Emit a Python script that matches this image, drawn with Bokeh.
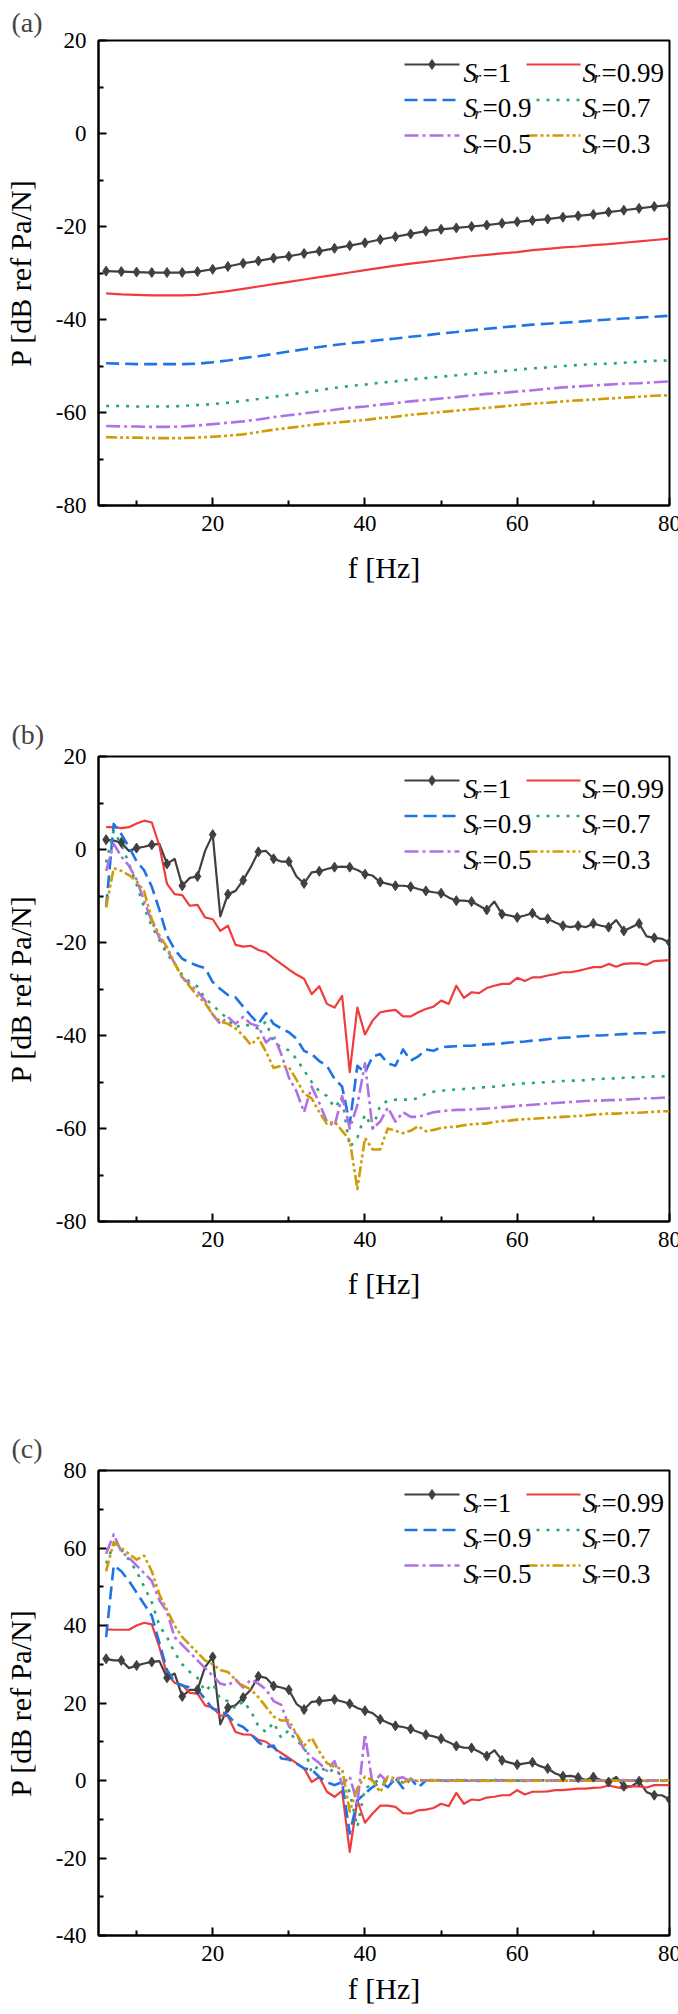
from bokeh.embed import file_html
from bokeh.layouts import column
from bokeh.models import FixedTicker, Label, Range1d
from bokeh.plotting import figure
from bokeh.resources import INLINE

FONT = "Liberation Serif"
FRAME_W = 571
FRAME_H = 465

# ---- data ----
sr_labels = ["1", "0.99", "0.9", "0.7", "0.5", "0.3"]

freq_a = list(range(6, 81, 2))
a_sr1 = [-29.6, -29.7, -29.8, -29.9, -29.9, -29.9, -29.7, -29.2, -28.6, -27.9,
         -27.4, -26.8, -26.4, -25.8, -25.3, -24.7, -24.1, -23.5, -22.8, -22.2,
         -21.6, -21.0, -20.6, -20.3, -20.0, -19.7, -19.3, -19.0, -18.7, -18.4,
         -18.0, -17.7, -17.4, -16.9, -16.5, -16.1, -15.7, -15.4]
a_sr099 = [-34.4, -34.6, -34.7, -34.8, -34.8, -34.8, -34.7, -34.3, -33.9, -33.4,
           -32.9, -32.4, -31.9, -31.4, -30.9, -30.4, -29.9, -29.4, -28.9, -28.4,
           -28.0, -27.6, -27.2, -26.8, -26.4, -26.1, -25.8, -25.5, -25.1, -24.8,
           -24.5, -24.3, -24.0, -23.8, -23.5, -23.2, -22.9, -22.6]
a_sr09 = [-49.4, -49.5, -49.6, -49.6, -49.6, -49.6, -49.5, -49.2, -48.8, -48.3,
          -47.9, -47.4, -46.9, -46.4, -45.9, -45.5, -45.1, -44.8, -44.4, -44.1,
          -43.7, -43.4, -43.0, -42.7, -42.3, -42.0, -41.7, -41.4, -41.1, -40.9,
          -40.7, -40.5, -40.2, -40.0, -39.8, -39.6, -39.4, -39.2]
a_sr07 = [-58.6, -58.6, -58.7, -58.7, -58.7, -58.6, -58.4, -58.2, -57.9, -57.5,
          -57.1, -56.6, -56.2, -55.7, -55.2, -54.7, -54.3, -54.0, -53.6, -53.3,
          -52.9, -52.6, -52.3, -52.0, -51.7, -51.4, -51.1, -50.8, -50.5, -50.3,
          -50.0, -49.8, -49.6, -49.5, -49.3, -49.1, -48.9, -48.8]
a_sr05 = [-62.9, -63.0, -63.0, -63.1, -63.1, -63.0, -62.8, -62.5, -62.2, -61.9,
          -61.5, -61.0, -60.6, -60.2, -59.8, -59.4, -59.0, -58.7, -58.3, -58.0,
          -57.6, -57.3, -57.0, -56.7, -56.3, -56.0, -55.8, -55.5, -55.2, -54.9,
          -54.6, -54.4, -54.2, -54.0, -53.8, -53.7, -53.5, -53.3]
a_sr03 = [-65.3, -65.4, -65.4, -65.5, -65.5, -65.5, -65.4, -65.2, -65.0, -64.7,
          -64.2, -63.7, -63.3, -62.9, -62.5, -62.2, -61.9, -61.6, -61.2, -60.9,
          -60.5, -60.2, -59.9, -59.6, -59.3, -59.0, -58.7, -58.4, -58.1, -57.9,
          -57.6, -57.4, -57.2, -57.0, -56.8, -56.6, -56.4, -56.3]

freq_bc = list(range(6, 81))
b_sr1 = [2.1, 1.9, 1.5, -0.3, 0.3, 0.6, 1.0, 1.2, -3.1, -2.0,
         -7.8, -6.1, -5.8, -0.3, 3.2, -14.4, -9.6, -8.9, -6.6, -3.8,
         -0.5, -0.3, -2.0, -2.6, -2.6, -5.8, -7.3, -4.9, -4.7, -4.2,
         -3.8, -3.7, -3.8, -4.4, -5.3, -5.6, -7.0, -7.4, -7.8, -7.8,
         -8.0, -8.5, -8.9, -9.2, -9.4, -10.3, -11.0, -11.0, -11.2, -12.1,
         -13.0, -11.2, -13.9, -14.2, -14.6, -14.2, -13.7, -14.9, -14.9, -15.7,
         -16.4, -16.7, -16.4, -16.7, -15.9, -16.4, -16.7, -15.2, -17.5, -16.7,
         -15.9, -18.7, -19.0, -19.2, -20.0]
b_sr099 = [4.8, 4.8, 4.6, 4.8, 5.6, 6.2, 5.8, 0.8, -7.4, -9.6,
           -9.8, -12.1, -11.9, -14.6, -15.0, -17.5, -16.4, -20.5, -20.9, -20.7,
           -21.6, -22.1, -23.4, -24.6, -25.8, -26.9, -27.8, -31.1, -29.4, -33.2,
           -34.0, -31.5, -47.9, -34.0, -39.8, -36.8, -35.0, -34.7, -34.5, -35.9,
           -35.9, -35.0, -34.3, -33.8, -32.5, -33.2, -29.3, -31.9, -30.7, -30.9,
           -29.8, -29.3, -28.9, -28.9, -27.6, -28.3, -27.5, -27.5, -27.1, -26.8,
           -26.4, -26.4, -26.1, -25.7, -25.3, -25.3, -24.6, -25.2, -24.6, -24.5,
           -24.5, -24.8, -24.0, -23.9, -23.8]
b_sr09 = [-12.4, 5.5, 3.3, 0.5, -2.5, -4.5, -8.0, -13.0, -18.5, -21.5,
          -23.5, -24.3, -25.0, -25.5, -28.5, -30.0, -31.3, -31.8, -33.8, -35.7,
          -37.5, -35.2, -37.5, -38.5, -39.3, -40.7, -43.3, -44.0, -45.5, -46.5,
          -49.3, -51.0, -59.0, -46.5, -48.0, -44.5, -44.0, -46.0, -46.5, -43.0,
          -45.4, -44.5, -43.0, -43.3, -42.5, -42.4, -42.3, -42.2, -42.2, -42.0,
          -41.9, -41.8, -41.7, -41.5, -41.4, -41.3, -41.1, -41.0, -40.8, -40.6,
          -40.5, -40.4, -40.2, -40.1, -40.0, -40.0, -39.9, -39.8, -39.7, -39.6,
          -39.5, -39.5, -39.4, -39.3, -39.3]
b_sr07 = [-2.8, 4.0, 1.0, -3.0, -7.5, -12.5, -16.5, -19.5, -22.5, -24.5,
          -27.0, -28.5, -29.5, -32.0, -33.5, -35.0, -36.5, -38.3, -37.5, -38.0,
          -38.5, -37.0, -41.5, -42.5, -43.2, -45.0, -47.5, -50.0, -52.0, -53.0,
          -55.5, -53.5, -64.0, -62.0, -57.0, -60.0, -55.0, -54.0, -53.8, -53.8,
          -53.8, -53.5, -52.5, -52.1, -51.9, -51.7, -51.6, -51.5, -51.4, -51.2,
          -51.1, -51.0, -50.8, -50.6, -50.4, -50.3, -50.2, -50.1, -50.0, -49.9,
          -49.8, -49.7, -49.7, -49.6, -49.4, -49.3, -49.3, -49.2, -49.1, -49.0,
          -49.0, -48.9, -48.8, -48.8, -48.8]
b_sr05 = [-4.6, 1.2, -1.5, -3.5, -6.5, -11.0, -15.5, -19.0, -21.5, -24.5,
          -27.5, -29.0, -30.5, -32.5, -35.5, -37.5, -36.0, -37.5, -36.0, -37.5,
          -38.0, -41.5, -40.0, -44.0, -49.0, -52.0, -56.5, -51.0, -54.5, -58.5,
          -59.5, -53.0, -60.0, -55.0, -46.0, -60.0, -58.5, -55.5, -58.5, -56.5,
          -57.5, -57.5, -57.0, -56.5, -56.3, -56.1, -56.0, -56.0, -55.9, -55.8,
          -55.7, -55.6, -55.4, -55.3, -55.1, -55.0, -54.9, -54.8, -54.6, -54.5,
          -54.4, -54.3, -54.2, -54.1, -54.0, -54.0, -53.9, -53.9, -53.8, -53.7,
          -53.6, -53.5, -53.5, -53.4, -53.3]
b_sr03 = [-12.4, -4.0, -4.6, -5.5, -6.8, -9.0, -15.0, -18.5, -21.0, -24.5,
          -27.5, -29.5, -31.5, -33.0, -35.5, -37.0, -37.5, -38.5, -40.0, -42.0,
          -40.5, -43.5, -47.0, -46.5, -46.8, -49.5, -52.5, -53.5, -56.5, -59.0,
          -58.5, -60.5, -62.5, -73.0, -62.0, -64.5, -64.5, -60.0, -60.5, -61.0,
          -60.5, -59.5, -60.6, -60.3, -59.9, -59.7, -59.6, -59.3, -59.1, -59.0,
          -58.9, -58.6, -58.4, -58.3, -58.1, -58.0, -57.9, -57.8, -57.7, -57.6,
          -57.5, -57.4, -57.3, -57.2, -57.0, -56.9, -56.8, -56.8, -56.7, -56.6,
          -56.6, -56.5, -56.4, -56.3, -56.3]

c_sr1 = [31.4, 31.0, 31.0, 29.0, 29.7, 30.2, 30.6, 30.8, 26.5, 27.6,
         21.7, 23.4, 23.4, 29.3, 31.9, 14.5, 18.8, 19.4, 21.4, 23.4,
         26.9, 26.5, 24.4, 24.0, 23.4, 19.8, 18.3, 20.3, 20.5, 20.7,
         20.9, 20.4, 19.8, 18.7, 18.0, 17.4, 15.8, 14.9, 14.1, 13.8,
         13.3, 12.5, 11.8, 11.4, 10.8, 9.9, 8.9, 8.5, 8.4, 7.4,
         6.3, 7.8, 5.2, 4.6, 4.1, 4.4, 4.7, 3.7, 3.1, 1.8,
         1.1, 1.2, 0.8, 0.1, 0.9, 0.1, -0.4, 0.9, -1.5, -1.5,
         -0.2, -3.0, -3.8, -3.8, -4.9]
c_sr099 = [39.0, 38.9, 38.9, 38.9, 40.0, 40.7, 40.3, 34.4, 27.4, 25.2,
           24.7, 22.6, 22.4, 19.4, 18.8, 16.8, 16.6, 12.5, 11.9, 11.8,
           10.5, 10.0, 8.4, 7.1, 5.8, 4.5, 3.2, -0.4, 0.9, -2.9,
           -4.2, -2.7, -18.4, -5.1, -10.9, -8.5, -6.5, -6.5, -6.8, -8.4,
           -8.5, -7.7, -7.5, -7.1, -6.0, -6.6, -3.2, -6.0, -4.9, -5.1,
           -4.4, -4.2, -3.8, -3.8, -2.5, -3.6, -2.9, -2.9, -2.8, -2.5,
           -2.5, -2.3, -2.1, -2.1, -1.9, -1.8, -1.3, -1.7, -2.1, -1.5,
           -1.5, -1.8, -1.2, -1.2, -1.2]
c_sr09 = [37.0, 55.5, 54.0, 51.5, 48.5, 45.5, 42.5, 35.5, 28.5, 25.4,
          24.5, 24.0, 23.5, 21.0, 18.5, 18.0, 16.8, 14.7, 13.8, 12.1,
          9.9, 8.6, 9.0, 5.7, 5.4, 4.4, 3.1, 2.8, 0.9, -0.4,
          -1.2, -0.4, -13.7, -5.1, -3.4, -1.7, -0.4, -1.7, 0.6, -2.0,
          0.5, -1.8, 0.0, 0.2, 0.0, -0.1, 0.1, 0.0, 0.0, -0.1,
          0.0, 0.1, 0.0, 0.0, 0.0, -0.1, 0.0, 0.0, 0.1, 0.0,
          0.0, 0.0, -0.1, 0.0, 0.0, 0.0, 0.1, 0.0, 0.0, 0.0,
          0.0, -0.1, 0.0, 0.0, 0.0]
c_sr07 = [56.0, 61.0, 59.5, 57.0, 54.0, 50.0, 46.0, 40.0, 37.0, 33.0,
          30.0, 28.0, 26.5, 23.0, 25.0, 21.0, 20.5, 18.5, 20.5, 18.0,
          14.0, 12.5, 15.0, 11.0, 13.0, 10.0, 9.0, 2.0, 4.0, 2.0,
          3.0, 1.0, -3.0, -12.0, -2.0, -1.0, 0.5, -1.0, 0.0, -0.5,
          0.3, 0.0, 0.1, 0.0, 0.0, 0.0, 0.1, 0.0, 0.0, 0.0,
          0.0, 0.0, 0.1, 0.0, 0.0, 0.0, 0.0, 0.0, 0.0, 0.1,
          0.0, 0.0, 0.0, 0.0, 0.0, 0.0, 0.0, 0.1, 0.0, 0.0,
          0.0, 0.0, 0.0, 0.0, 0.0]
c_sr05 = [58.5, 63.5, 59.0, 57.5, 55.5, 53.5, 51.5, 46.5, 43.5, 37.0,
          35.0, 33.0, 31.0, 29.0, 27.0, 25.0, 24.5, 26.0, 24.0, 26.0,
          25.0, 23.5, 20.5, 19.5, 14.0, 12.0, 8.0, 6.0, 4.5, 2.5,
          5.0, -1.0, 1.0, -6.0, 12.0, -1.0, 1.5, -0.5, 0.5, 0.8,
          -0.3, 0.2, 0.0, 0.1, 0.0, 0.0, 0.0, 0.1, 0.0, 0.0,
          0.0, 0.0, 0.0, 0.1, 0.0, 0.0, 0.0, 0.0, 0.0, 0.0,
          0.1, 0.0, 0.0, 0.0, 0.0, 0.0, 0.0, 0.0, 0.1, 0.0,
          0.0, 0.0, 0.0, 0.0, 0.0]
c_sr03 = [54.0, 61.5, 60.0, 58.5, 57.0, 58.0, 54.0, 48.0, 44.0, 40.0,
          37.0, 35.0, 33.0, 31.0, 30.0, 28.5, 28.0, 26.0, 24.5, 23.5,
          21.5, 19.0, 16.5, 15.5, 15.5, 12.0, 9.0, 11.0, 7.5, 4.5,
          3.5, 3.0, -8.0, -2.0, 1.0, 0.0, -3.0, 1.0, 0.5, -0.5,
          0.3, -0.2, 0.1, 0.0, -0.1, 0.0, -0.1, 0.0, -0.1, 0.0,
          -0.1, -0.1, 0.0, -0.1, 0.0, -0.1, 0.0, 0.0, -0.1, 0.0,
          -0.1, 0.0, -0.1, 0.0, -0.1, 0.0, 0.0, -0.1, 0.0, -0.1,
          0.0, -0.1, 0.0, -0.1, 0.0]

# ---- styles ----
STYLES = [
    dict(line_color="#404040", line_width=2.2),
    dict(line_color="#f03c3c", line_width=2.2),
    dict(line_color="#1e73e6", line_width=2.6, line_dash="13 6"),
    dict(line_color="#29a86b", line_width=2.6, line_dash="3 7"),
    dict(line_color="#b070e6", line_width=2.6, line_dash="14 4 3 4"),
    dict(line_color="#cf9c06", line_width=2.6, line_dash="11 3 3 3 3 3"),
]
MARK_COLOR = "#404040"

LEG_ROWS = [24, 59.5, 95]          # px below frame top (line level)
LEG_COLS = [(306, 361, 365), (428, 482, 484)]  # line start, line end, text start


def to_data(p, sx, sy):
    # sx: px from frame left, sy: px below frame top
    x0, x1 = p.x_range.start, p.x_range.end
    y0, y1 = p.y_range.start, p.y_range.end
    return x0 + sx / FRAME_W * (x1 - x0), y1 - sy / FRAME_H * (y1 - y0)


def add_text(p, sx, sy, text, size, style="normal"):
    x, y = to_data(p, sx, sy)
    p.add_layout(Label(x=x, y=y, text=text,
                       text_font=FONT, text_font_size=size,
                       text_font_style=style, text_color="black",
                       text_align="left", text_baseline="alphabetic"))


def make_panel(tag, freq, series, mark_step, y_lo, y_hi, y_major, y_minor,
               top, tag_gap, bottom, xlab_gap):
    p = figure(frame_width=FRAME_W, frame_height=FRAME_H,
               min_border_left=95, min_border_right=12,
               min_border_top=top, min_border_bottom=bottom,
               x_range=Range1d(5, 80), y_range=Range1d(y_lo, y_hi),
               title=tag, output_backend="svg", toolbar_location=None)
    p.title.align = "left"
    p.title.offset = -87
    p.title.standoff = tag_gap
    p.title.text_font = FONT
    p.title.text_font_size = "28px"
    p.title.text_font_style = "normal"

    p.xgrid.visible = False
    p.ygrid.visible = False
    p.outline_line_color = "black"
    p.outline_line_width = 2
    p.background_fill_color = "white"
    p.border_fill_color = "white"

    p.xaxis.ticker = FixedTicker(ticks=[20, 40, 60, 80],
                                 minor_ticks=[10, 30, 50, 70])
    p.yaxis.ticker = FixedTicker(ticks=y_major, minor_ticks=y_minor)
    p.yaxis.major_label_overrides = {v: str(v) for v in y_major}
    for ax in (p.xaxis, p.yaxis):
        ax.axis_line_width = 2
        ax.major_tick_line_width = 2
        ax.minor_tick_line_width = 2
        ax.major_tick_in = 8
        ax.major_tick_out = 0
        ax.minor_tick_in = 5
        ax.minor_tick_out = 0
        ax.major_label_text_font = FONT
        ax.major_label_text_font_size = "23px"
        ax.major_label_text_color = "black"
        ax.axis_label_text_font = FONT
        ax.axis_label_text_font_size = "30px"
        ax.axis_label_text_font_style = "normal"
        ax.axis_label_text_color = "black"
    p.xaxis.major_label_standoff = 10
    p.yaxis.major_label_standoff = 12
    p.xaxis.axis_label = "f [Hz]"
    p.yaxis.axis_label = "P [dB ref Pa/N]"
    p.xaxis.axis_label_standoff = xlab_gap
    p.yaxis.axis_label_standoff = 16

    for vals, st in zip(series, STYLES):
        p.line(freq, vals, line_join="round", **st)
    p.scatter(freq[::mark_step], series[0][::mark_step], marker="diamond",
              size=10, color=MARK_COLOR)

    # legend, two columns by three rows, no frame
    for i, (lab, st) in enumerate(zip(sr_labels, STYLES)):
        row, col = divmod(i, 2)
        lx0, lx1, tx = LEG_COLS[col]
        ly = LEG_ROWS[row]
        xa, ya = to_data(p, lx0, ly)
        xb, _ = to_data(p, lx1, ly)
        p.line([xa, xb], [ya, ya], **st)
        if i == 0:
            xm, _ = to_data(p, (lx0 + lx1) / 2, ly)
            p.scatter([xm], [ya], marker="diamond", size=10, color=MARK_COLOR)
        add_text(p, tx, ly + 8, "S", "27px", "italic")
        add_text(p, tx + 11, ly + 13, "r", "17px", "italic")
        add_text(p, tx + 19, ly + 8, "=" + lab, "27px")
    return p


pa = make_panel("(a)", freq_a,
                [a_sr1, a_sr099, a_sr09, a_sr07, a_sr05, a_sr03], 1,
                -80, 20, [-80, -60, -40, -20, 0, 20], [-70, -50, -30, -10, 10],
                40, 6, 204, 17)
pb = make_panel("(b)", freq_bc,
                [b_sr1, b_sr099, b_sr09, b_sr07, b_sr05, b_sr03], 2,
                -80, 20, [-80, -60, -40, -20, 0, 20], [-70, -50, -30, -10, 10],
                47, 14, 202, 17)
pc = make_panel("(c)", freq_bc,
                [c_sr1, c_sr099, c_sr09, c_sr07, c_sr05, c_sr03], 2,
                -40, 80, [-40, -20, 0, 20, 40, 60, 80], [-30, -10, 10, 30, 50, 70],
                47, 14, 76, 8)

layout = column(pa, pb, pc)
open("out.html", "w").write(file_html(layout, INLINE))
